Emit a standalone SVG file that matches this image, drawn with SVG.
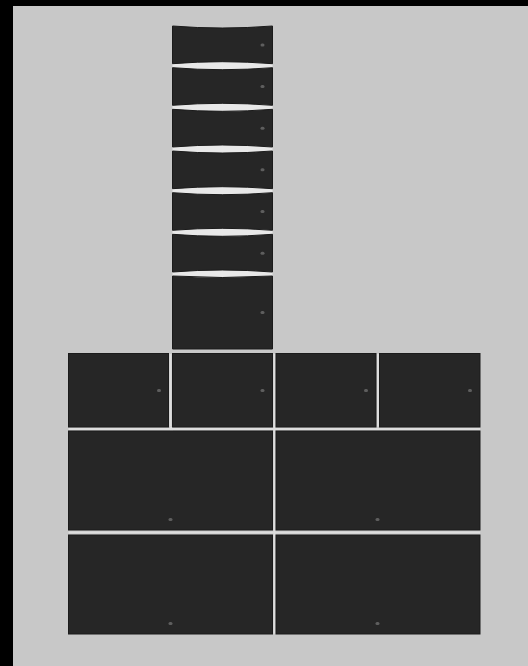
<svg xmlns="http://www.w3.org/2000/svg" width="528" height="666" viewBox="0 0 528 666">
<style>
.blk{fill:#262626;stroke:#1b1b1b;stroke-width:1}
.dot{fill:#5e5e5e}
.gap{fill:#dddddd}
.lens{fill:#e8e8e8}
</style>
<rect x="0" y="0" width="528" height="666" fill="#c8c8c8"/>
<rect x="0" y="0" width="528" height="6" fill="#000"/>
<rect x="0" y="0" width="13" height="666" fill="#000"/>
<path class="lens" d="M172.5,63.7 Q222,59.7 272.5,63.7 L272.5,67.7 Q222,71.7 172.5,67.7 Z"/>
<path class="lens" d="M172.5,105.3 Q222,101.3 272.5,105.3 L272.5,109.3 Q222,113.3 172.5,109.3 Z"/>
<path class="lens" d="M172.5,147 Q222,143 272.5,147 L272.5,151 Q222,155 172.5,151 Z"/>
<path class="lens" d="M172.5,188.7 Q222,184.7 272.5,188.7 L272.5,192.7 Q222,196.7 172.5,192.7 Z"/>
<path class="lens" d="M172.5,230.3 Q222,226.3 272.5,230.3 L272.5,234.3 Q222,238.3 172.5,234.3 Z"/>
<path class="lens" d="M172.5,272 Q222,268 272.5,272 L272.5,276 Q222,279 172.5,276 Z"/>
<rect class="gap" x="170" y="427" width="3" height="3.5"/>
<rect class="gap" x="68.5" y="428" width="411.5" height="2"/>
<rect class="gap" x="68.5" y="531.5" width="411.5" height="2"/>
<rect class="gap" x="273.5" y="354" width="2" height="279.5"/>
<rect class="gap" x="169.5" y="354" width="2" height="72.5"/>
<rect class="gap" x="377" y="354" width="2" height="72.5"/>
<g id="connectors"/>
<g id="s1"><path class="blk" d="M172.5,26 Q222,30 272.5,26 L272.5,63.7 Q222,59.7 172.5,63.7 Z"/><rect class="dot" x="260.5" y="43.5" width="4" height="3" rx="1.5"/></g>
<g id="s2"><path class="blk" d="M172.5,67.7 Q222,71.7 272.5,67.7 L272.5,105.3 Q222,101.3 172.5,105.3 Z"/><rect class="dot" x="260.5" y="85" width="4" height="3" rx="1.5"/></g>
<g id="s3"><path class="blk" d="M172.5,109.3 Q222,113.3 272.5,109.3 L272.5,147 Q222,143 172.5,147 Z"/><rect class="dot" x="260.5" y="126.7" width="4" height="3" rx="1.5"/></g>
<g id="s4"><path class="blk" d="M172.5,151 Q222,155 272.5,151 L272.5,188.7 Q222,184.7 172.5,188.7 Z"/><rect class="dot" x="260.5" y="168.3" width="4" height="3" rx="1.5"/></g>
<g id="s5"><path class="blk" d="M172.5,192.7 Q222,196.7 272.5,192.7 L272.5,230.3 Q222,226.3 172.5,230.3 Z"/><rect class="dot" x="260.5" y="210" width="4" height="3" rx="1.5"/></g>
<g id="s6"><path class="blk" d="M172.5,234.3 Q222,238.3 272.5,234.3 L272.5,272 Q222,268 172.5,272 Z"/><rect class="dot" x="260.5" y="251.7" width="4" height="3" rx="1.5"/></g>
<g id="s7"><path class="blk" d="M172.5,276 Q222,279 272.5,276 L272.5,349 L172.5,349 Z"/><rect class="dot" x="260.5" y="311" width="4" height="3" rx="1.5"/></g>
<g id="r1a"><rect class="blk" x="68.5" y="353.5" width="100" height="73.5"/><rect class="dot" x="157" y="389" width="4" height="3" rx="1.5"/></g>
<g id="r1b"><rect class="blk" x="172.5" y="353.5" width="100" height="73.5"/><rect class="dot" x="260.5" y="389" width="4" height="3" rx="1.5"/></g>
<g id="r1c"><rect class="blk" x="276" y="353.5" width="100" height="73.5"/><rect class="dot" x="364" y="389" width="4" height="3" rx="1.5"/></g>
<g id="r1d"><rect class="blk" x="379.5" y="353.5" width="100.5" height="73.5"/><rect class="dot" x="468" y="389" width="4" height="3" rx="1.5"/></g>
<g id="r2a"><rect class="blk" x="68.5" y="431" width="204" height="99"/><rect class="dot" x="168.5" y="518" width="4" height="3" rx="1.5"/></g>
<g id="r2b"><rect class="blk" x="276" y="431" width="204" height="99"/><rect class="dot" x="375.5" y="518" width="4" height="3" rx="1.5"/></g>
<g id="r3a"><rect class="blk" x="68.5" y="535" width="204" height="99"/><rect class="dot" x="168.5" y="622" width="4" height="3" rx="1.5"/></g>
<g id="r3b"><rect class="blk" x="276" y="535" width="204" height="99"/><rect class="dot" x="375.5" y="622" width="4" height="3" rx="1.5"/></g>
</svg>
